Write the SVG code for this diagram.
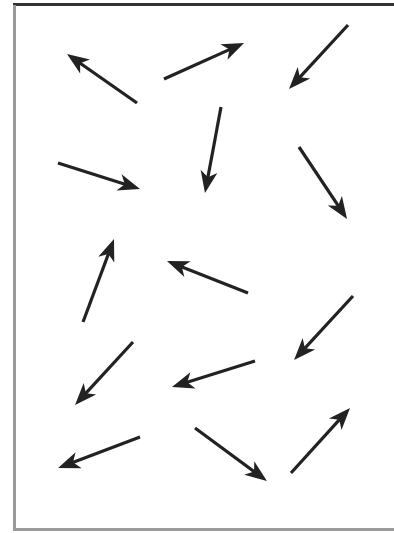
<svg xmlns="http://www.w3.org/2000/svg" width="394" height="533" viewBox="0 0 394 533">
<style>
.a{stroke:#222;stroke-width:3.2;fill:none;marker-end:url(#h)}
</style>
<defs>
<marker id="h" markerUnits="userSpaceOnUse" markerWidth="30" markerHeight="24" viewBox="-14 -12 30 24" refX="0" refY="0" orient="auto">
<path d="M10,0 L-12,-8.5 L-6,0 L-12,8.5 Z" fill="#222"/>
</marker>
</defs>
<rect width="394" height="533" fill="#fff"/>
<g id="frame">
<rect x="13" y="3" width="381" height="3" fill="#333"/>
<rect x="13" y="5" width="3" height="526" fill="#9a9a9a"/>
<rect x="13" y="528" width="381" height="3" fill="#9a9a9a"/>
</g>
<g id="connectors">
<line class="a" x1="137" y1="103" x2="75.2" y2="59.7"/>
<line class="a" x1="164" y1="79" x2="234.9" y2="47.1"/>
<line class="a" x1="348" y1="25" x2="295.8" y2="81.6"/>
<line class="a" x1="221" y1="107" x2="206.8" y2="183.2"/>
<line class="a" x1="58" y1="163" x2="130.5" y2="186"/>
<line class="a" x1="299" y1="147" x2="341.5" y2="210.7"/>
<line class="a" x1="83" y1="322" x2="110.5" y2="248.4"/>
<line class="a" x1="248" y1="293" x2="176.3" y2="264.7"/>
<line class="a" x1="353" y1="296" x2="300.8" y2="352.6"/>
<line class="a" x1="133" y1="342" x2="81.8" y2="397.6"/>
<line class="a" x1="255" y1="361" x2="181.5" y2="384"/>
<line class="a" x1="140" y1="437" x2="67.4" y2="464.5"/>
<line class="a" x1="195" y1="428" x2="258.9" y2="475.1"/>
<line class="a" x1="291" y1="473" x2="343.3" y2="415.4"/>
</g>
</svg>
